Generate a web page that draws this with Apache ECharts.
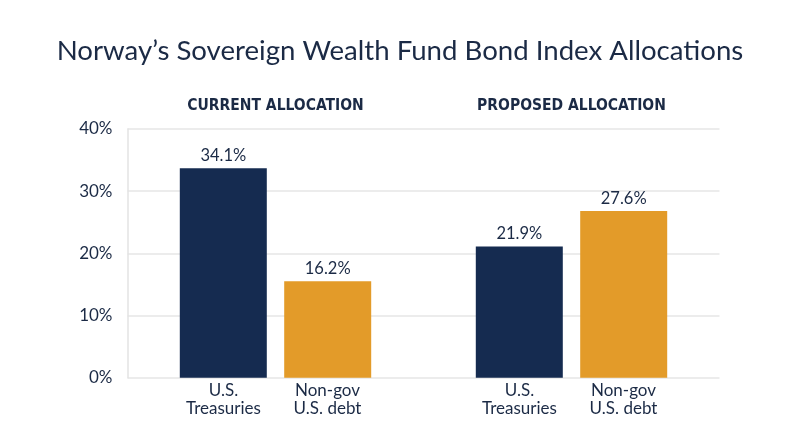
<!DOCTYPE html>
<html>
<head>
<meta charset="utf-8">
<script src="https://cdn.jsdelivr.net/npm/echarts@6/dist/echarts.min.js"></script>
<style>
html,body{margin:0;padding:0;background:#fff;}
#chart{width:800px;height:447px;}
</style>
</head>
<body>
<div id="chart"></div>
<script>
// Data
const groups = ['CURRENT ALLOCATION', 'PROPOSED ALLOCATION'];
const barNames = ['U.S. Treasuries', 'Non-gov U.S. debt'];
const treasuriesValues = [33.7, 21.1];      // bar heights as drawn
const nonGovValues = [15.5, 26.8];          // bar heights as drawn
const treasuriesLabels = ['34.1%', '21.9%'];
const nonGovLabels = ['16.2%', '27.6%'];
const yTicks = [0, 10, 20, 30, 40];

const textColor = '#1b2a45';
const chart = echarts.init(document.getElementById('chart'));
chart.setOption({
  backgroundColor: '#ffffff',
  animation: false,
  title: {
    text: 'Norway’s Sovereign Wealth Fund Bond Index Allocations',
    left: 'center',
    top: 32,
    textStyle: { fontFamily: 'Lato', fontWeight: 'normal', fontSize: 27.6, color: textColor }
  },
  grid: { left: 127.5, right: 80.5, top: 129, bottom: 69.3 },
  xAxis: [
    {
      type: 'category',
      data: groups,
      axisLine: { show: false },
      axisTick: { show: false },
      axisLabel: {
        margin: 4,
        formatter: function () {
          return '{a|U.S.}{b|Non-gov}\n{a|Treasuries}{b|U.S. debt}';
        },
        rich: {
          a: { width: 104, align: 'center', fontSize: 17, lineHeight: 18, color: textColor, fontFamily: 'Lato' },
          b: { width: 104, align: 'center', fontSize: 17, lineHeight: 18, color: textColor, fontFamily: 'Lato' }
        }
      }
    },
    {
      type: 'category',
      position: 'top',
      data: groups,
      axisLine: { show: false },
      axisTick: { show: false },
      axisLabel: {
        margin: 15,
        fontFamily: 'DejaVu Sans Condensed',
        fontWeight: 'bold',
        fontSize: 15.5,
        color: textColor
      }
    }
  ],
  yAxis: {
    type: 'value',
    min: yTicks[0],
    max: yTicks[yTicks.length - 1],
    interval: 10,
    axisLine: { show: true, lineStyle: { color: '#e3e3e3', width: 1.5 } },
    axisTick: { show: false },
    splitLine: { lineStyle: { color: '#e6e6e6', width: 1.5 } },
    axisLabel: { formatter: '{value}%', fontSize: 17, color: textColor, margin: 15, fontFamily: 'Lato' }
  },
  series: [
    {
      name: barNames[0],
      type: 'bar',
      data: treasuriesValues,
      barWidth: 87,
      barGap: '20%',
      itemStyle: { color: '#152b50' },
      label: {
        show: true,
        position: 'top',
        distance: 4,
        fontSize: 16.5,
        fontFamily: 'Lato',
        color: textColor,
        formatter: function (p) { return treasuriesLabels[p.dataIndex]; }
      }
    },
    {
      name: barNames[1],
      type: 'bar',
      data: nonGovValues,
      barWidth: 87,
      itemStyle: { color: '#e39b29' },
      label: {
        show: true,
        position: 'top',
        distance: 4,
        fontSize: 16.5,
        fontFamily: 'Lato',
        color: textColor,
        formatter: function (p) { return nonGovLabels[p.dataIndex]; }
      }
    }
  ]
});
</script>
</body>
</html>
